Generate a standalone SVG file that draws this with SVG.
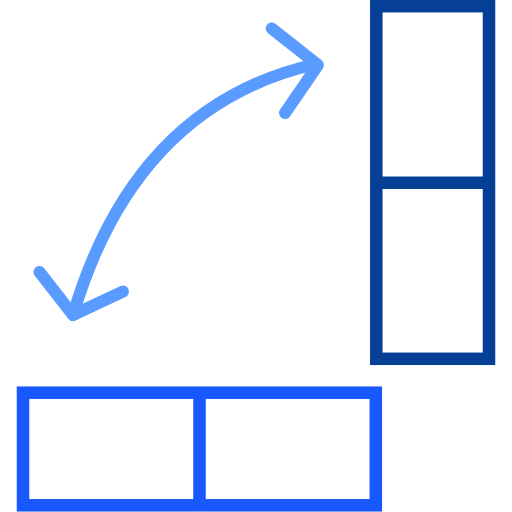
<svg xmlns="http://www.w3.org/2000/svg" width="512" height="512" viewBox="0 0 512 512">
<style>
.s{fill:none;stroke-width:12.5}
.a{fill:none;stroke:#5A9BFF;stroke-width:12;stroke-linecap:round;stroke-linejoin:round}
</style>
<rect width="512" height="512" fill="#fff"/>
<g id="vertical">
<rect class="s" x="376.3" y="6.2" width="112.7" height="352.6" stroke="#063F96"/>
<line class="s" x1="376" y1="182.7" x2="489" y2="182.7" stroke="#063F96"/>
</g>
<g id="horizontal">
<rect class="s" x="23" y="392.7" width="352.8" height="112.6" stroke="#1758FF"/>
<line class="s" x1="199.5" y1="392.7" x2="199.5" y2="505.3" stroke="#1758FF"/>
</g>
<g id="connectors">
<path class="a" d="M73 315 Q135 105 316 64"/>
<path class="a" d="M271.7 28.5 L318 65 L285 113"/>
<path class="a" d="M39.5 272 L73 315 L123 291.5"/>
</g>
</svg>
